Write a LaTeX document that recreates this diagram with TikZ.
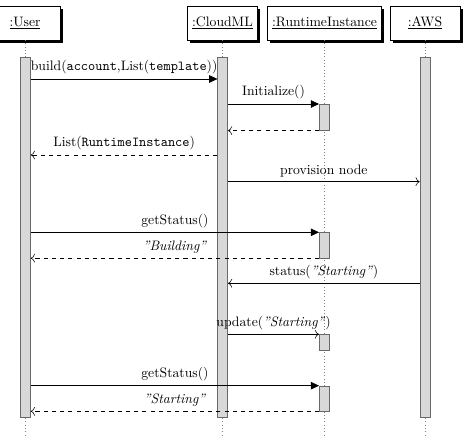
\documentclass[tikz,border=0pt]{standalone}
\usepackage{tikz}
\usetikzlibrary{arrows.meta, positioning, calc, shadows}
\definecolor{cBar}{RGB}{216,216,216}
\definecolor{cBarEdge}{RGB}{105,105,105}
\tikzset{
	inst/.style     ={rectangle, draw=black, fill=white, minimum width=51pt, minimum height=24.5pt, drop shadow={shadow xshift=2pt, shadow yshift=-2pt, fill=black, opacity=1}},
	lifeline/.style ={dotted, gray},
	actbar/.style   ={rectangle, draw=cBarEdge, fill=cBar, minimum width=7.3pt, inner sep=0pt, anchor=north},
	% message styles
	callarrow/.style={-{Triangle[length=6pt, width=5.5pt]}},
	msgarrow/.style ={-{To[length=3pt]}},
	retarrow/.style ={-{To[length=3pt]}, dashed},
	msglabel/.style ={above},
}

\begin{document}
\begin{tikzpicture}[x=0.73pt, y=-0.73pt]
	\useasboundingbox (0,0) rectangle (467,442);
	\node[inst] (user)  at (25,23)    {\underline{:User}};
	\node[inst] (cloud) at (222.5,23) {\underline{:CloudML}};
	\node[inst] (rti)   at (324.5,23) {\underline{:RuntimeInstance}};
	\node[inst] (aws)   at (425,23)   {\underline{:AWS}};
	\coordinate (lifeend) at (0,436);
	\foreach \o in {user,cloud,rti,aws}
		\draw[lifeline] (\o.south) -- (\o.south |- lifeend);
	% activation bars
	\node[actbar, minimum height=262.8pt] (userbar)  at (25.5,57)  {};
	\node[actbar, minimum height=262.8pt] (cloudbar) at (222.7,57) {};
	\node[actbar, minimum height=262.8pt] (awsbar)   at (425,57)   {};
	\node[actbar, minimum height=19pt]   (rti1) at (324.3,104)   {};
	\node[actbar, minimum height=18.5pt] (rti2) at (324.3,232.3) {};
	\node[actbar, minimum height=11.5pt] (rti3) at (324.3,334.3) {};
	\node[actbar, minimum height=18.3pt] (rti4) at (324.3,385.7) {};
	% messages
	\coordinate (m1) at (0,79);
	\coordinate (m2) at (0,155);
	\coordinate (m3) at (0,181.7);
	\coordinate (m4) at (0,283.3);
	\draw[callarrow] (userbar.east |- m1) -- node[msglabel] (lbuild) {build(\texttt{account},List(\texttt{template}))} (cloudbar.west |- m1);
	\draw[callarrow] (cloudbar.east |- rti1.north) -- node[msglabel] (linit) {Initialize()} (rti1.north west);
	\draw[retarrow] (rti1.south west) -- (cloudbar.east |- rti1.south);
	\draw[retarrow] (cloudbar.west |- m2) -- node[msglabel] (llist) {List(\texttt{RuntimeInstance})} (userbar.east |- m2);
	\draw[msgarrow] (cloudbar.east |- m3) -- node[msglabel] (lprov) {provision node} (awsbar.west |- m3);
	\draw[callarrow] (userbar.east |- rti2.north) -- node[msglabel] (lget1) {getStatus()} (rti2.north west);
	\draw[retarrow] (rti2.south west) -- node[msglabel] (lbuilding) {\textit{''Building''}} (userbar.east |- rti2.south);
	\draw[msgarrow] (awsbar.west |- m4) -- node[msglabel] (lstatus) {status(\textit{''Starting''})} (cloudbar.east |- m4);
	\draw[msgarrow] (cloudbar.east |- rti3.north) -- node[msglabel] (lupdate) {update(\textit{''Starting''})} (rti3.north west);
	\draw[callarrow] (userbar.east |- rti4.north) -- node[msglabel] (lget2) {getStatus()} (rti4.north west);
	\draw[retarrow] (rti4.south west) -- node[msglabel] (lstart) {\textit{''Starting''}} (userbar.east |- rti4.south);
\end{tikzpicture}
\end{document}
